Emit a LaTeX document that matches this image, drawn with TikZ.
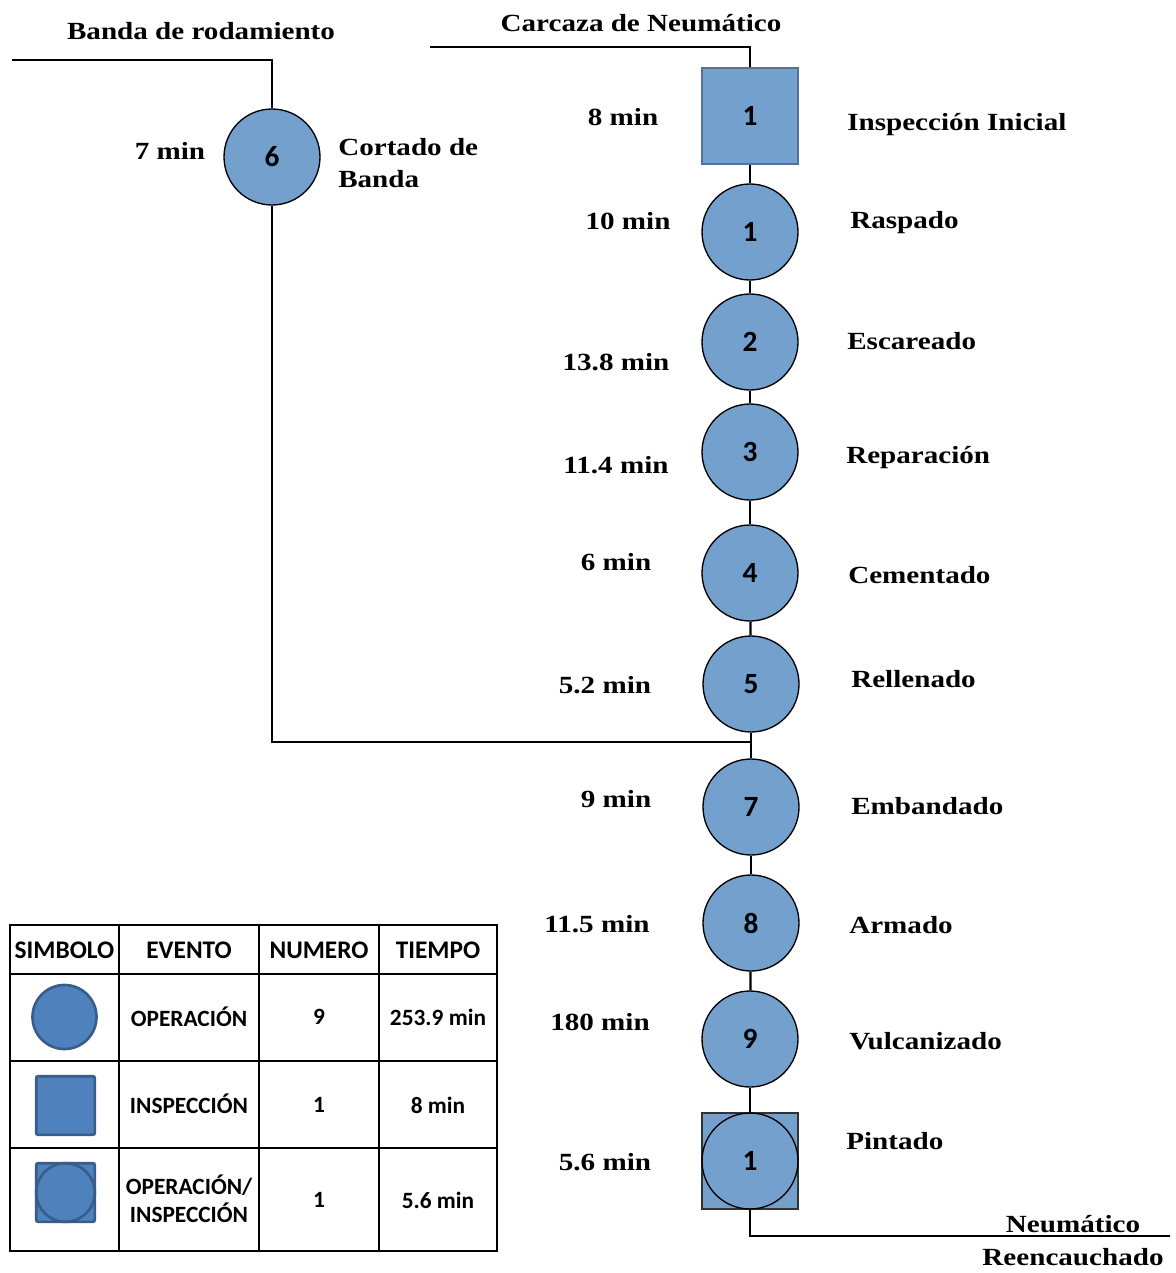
\documentclass[tikz,border=0pt]{standalone}
\usepackage{fontspec}
\setmainfont[FakeStretch=1.18]{Liberation Serif}
\newfontfamily\calfont{Carlito}
\begin{document}
\begin{tikzpicture}[x=0.75pt,y=-0.75pt,
  flow/.style={line width=1.7pt,black},
  op/.style={circle,draw=black,line width=1pt,fill=opblue,minimum size=72pt,inner sep=0pt,
    font=\calfont\bfseries\fontsize{22}{24}\selectfont},
  insp/.style={rectangle,draw=inspedge,line width=0.8pt,fill=opblue,minimum size=72pt,inner sep=0pt,
    font=\calfont\bfseries\fontsize{22}{24}\selectfont},
  lbl/.style={font=\bfseries\fontsize{18.5}{21}\selectfont,inner sep=0pt},
  tm/.style={font=\bfseries\fontsize{18.5}{21}\selectfont,inner sep=0pt},
  cell/.style={font=\calfont\bfseries\fontsize{17.5}{20}\selectfont,inner sep=0pt,align=center},
  hcell/.style={font=\calfont\bfseries\fontsize{19}{21}\selectfont,inner sep=0pt},
  grid/.style={line width=1.5pt,black},
  legop/.style={circle,draw=legedge,line width=2pt,fill=legblue,minimum size=48pt,inner sep=0pt},
  legsq/.style={rectangle,rounded corners=1.5pt,draw=legedge,line width=2pt,fill=legblue,minimum size=44pt,inner sep=0pt}]
\definecolor{opblue}{RGB}{116,160,206}
\definecolor{inspedge}{RGB}{86,112,150}
\definecolor{legblue}{RGB}{79,129,189}
\definecolor{legedge}{RGB}{56,93,138}
\useasboundingbox (0,0) rectangle (1175,1273);

% ---- main line: carcass path ----
\coordinate (cin) at (430,47);
\node[insp] (s1) at (750,116) {1};
\node[op] (o1) at (750,232) {1};
\node[op] (o2) at (750,342) {2};
\node[op] (o3) at (750,452) {3};
\node[op] (o4) at (750,573) {4};
\node[op] (o5) at (751,684) {5};
\node[op] (o7) at (751,807) {7};
\node[op] (o8) at (751,923) {8};
\node[op] (o9) at (750,1039) {9};
\node[rectangle,draw=black!80,line width=0.8pt,fill=opblue,minimum size=72pt] (p1) at (750,1161) {};
\node[op,fill=none] (c1) at (750,1161) {1};
\coordinate (cout) at (1170,1236);
\coordinate (j) at (750,742);

% ---- tread path ----
\coordinate (bin) at (12,60);
\node[op] (o6) at (272,157) {6};

% ---- connectors ----
\draw[flow] (cin) -| (s1.north);
\draw[flow] (s1) -- (o1);
\draw[flow] (o1) -- (o2);
\draw[flow] (o2) -- (o3);
\draw[flow] (o3) -- (o4);
\draw[flow] (o4) -- (o5);
\draw[flow] (o5) -- (o7);
\draw[flow] (o7) -- (o8);
\draw[flow] (o8) -- (o9);
\draw[flow] (o9) -- (p1);
\draw[flow] (p1.south) |- (cout);
\draw[flow] (bin) -| (o6.north);
\draw[flow] (o6.south) |- (j);

% ---- titles ----
\node[lbl] (tb) at (201,31) {Banda de rodamiento};
\node[lbl] (tc) at (641,23) {Carcaza de Neumático};
\node[lbl] (tn1) at (1073,1224) {Neumático};
\node[lbl] (tn2) at (1073,1257) {Reencauchado};

% ---- times ----
\node[tm] (t0) at (623,117) {8 min};
\node[tm] (t1) at (628,221) {10 min};
\node[tm] (t2) at (616,362) {13.8 min};
\node[tm] (t3) at (616,465) {11.4 min};
\node[tm] (t4) at (616,562) {6 min};
\node[tm] (t5) at (605,685) {5.2 min};
\node[tm] (t7) at (616,799) {9 min};
\node[tm] (t8) at (597,924) {11.5 min};
\node[tm] (t9) at (600,1022) {180 min};
\node[tm] (t10) at (605,1162) {5.6 min};
\node[tm] (t6) at (170,151) {7 min};

% ---- activity names ----
\node[lbl,anchor=west] (n0) at (847,125) {Inspección Inicial};
\node[lbl,anchor=west] (n1) at (850,223) {Raspado};
\node[lbl,anchor=west] (n2) at (847,341) {Escareado};
\node[lbl,anchor=west] (n3) at (846,458) {Reparación};
\node[lbl,anchor=west] (n4) at (848,575) {Cementado};
\node[lbl,anchor=west] (n5) at (851,679) {Rellenado};
\node[lbl,anchor=west] (n7) at (851,806) {Embandado};
\node[lbl,anchor=west] (n8) at (849,925) {Armado};
\node[lbl,anchor=west] (n9) at (849,1041) {Vulcanizado};
\node[lbl,anchor=west] (n10) at (846,1141) {Pintado};
\node[lbl,anchor=west] (n6a) at (338,147) {Cortado de};
\node[lbl,anchor=west] (n6b) at (338,179) {Banda};

% ---- summary table ----
\draw[grid] (10,925) rectangle (497,1251);
\foreach \yy in {974,1061,1148} \draw[grid] (10,\yy) -- (497,\yy);
\foreach \xx in {119,259,379} \draw[grid] (\xx,925) -- (\xx,1251);

\node[hcell] (h1) at (64.5,950) {SIMBOLO};
\node[hcell] (h2) at (189,950) {EVENTO};
\node[hcell] (h3) at (319,950) {NUMERO};
\node[hcell] (h4) at (438,950) {TIEMPO};

\node[legop] (l1) at (64.5,1017) {};
\node[cell] (e1) at (189,1017) {OPERACIÓN};
\node[cell] (m1) at (319,1017) {9};
\node[cell] (k1) at (438,1017) {253.9 min};

\node[legsq] (l2) at (65.5,1105.5) {};
\node[cell] (e2) at (189,1104) {INSPECCIÓN};
\node[cell] (m2) at (319,1105) {1};
\node[cell] (k2) at (438,1105) {8 min};

\node[legsq] (l3) at (65.5,1192.5) {};
\node[circle,draw=legedge,line width=2pt,minimum size=44pt,inner sep=0pt] (l3c) at (65.5,1192.5) {};
\node[cell] (e3) at (189,1199) {OPERACIÓN/\\[1pt]INSPECCIÓN};
\node[cell] (m3) at (319,1200) {1};
\node[cell] (k3) at (438,1200) {5.6 min};
\end{tikzpicture}
\end{document}
